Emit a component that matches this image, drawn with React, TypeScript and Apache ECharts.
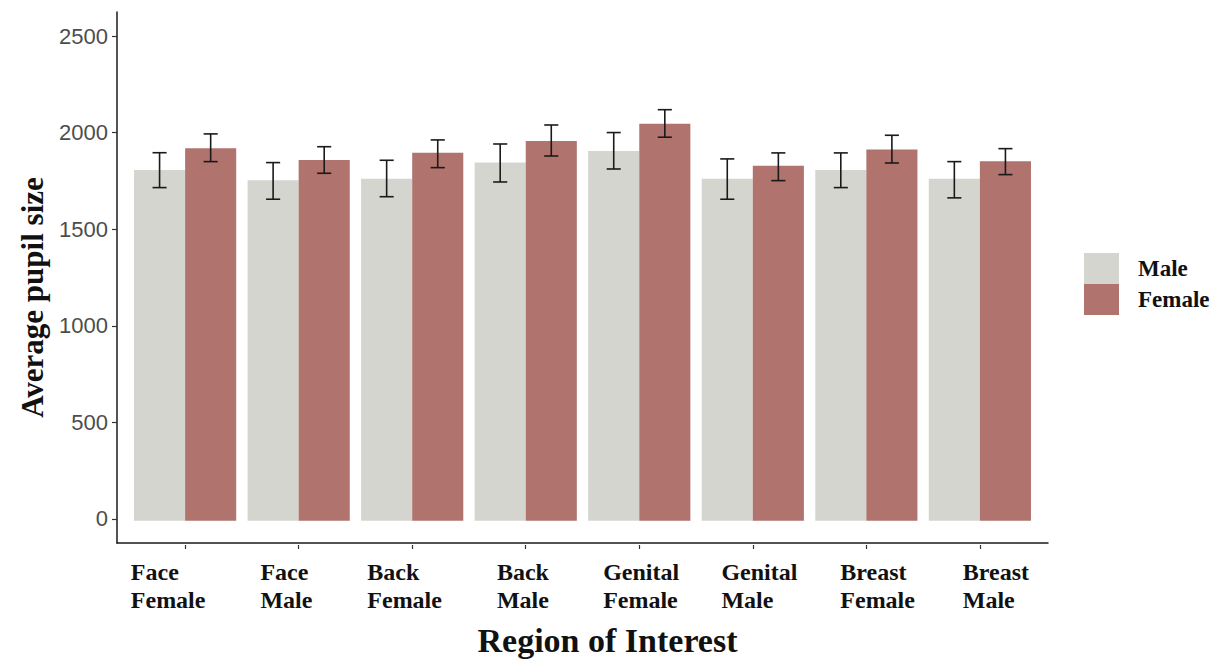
import React, { useEffect, useRef } from 'react';
import * as echarts from 'echarts';

const categories = ['Face\nFemale', 'Face\nMale', 'Back\nFemale', 'Back\nMale', 'Genital\nFemale', 'Genital\nMale', 'Breast\nFemale', 'Breast\nMale'];
const seriesNames = ['Male', 'Female'];
const maleMean = [1810, 1757, 1765, 1848, 1908, 1765, 1810, 1765];
const femaleMean = [1922, 1862, 1899, 1960, 2049, 1832, 1915, 1855];
const maleLower = [1719, 1659, 1672, 1748, 1815, 1659, 1719, 1666];
const maleUpper = [1899, 1848, 1860, 1944, 2003, 1867, 1898, 1853];
const femaleLower = [1853, 1793, 1822, 1882, 1979, 1755, 1846, 1786];
const femaleUpper = [1996, 1930, 1965, 2042, 2121, 1898, 1989, 1920];
const yTicks = [0, 500, 1000, 1500, 2000, 2500];
const yMin = -125;
const yMax = 2625;

const MALE_COLOR = '#d5d5cf';
const FEMALE_COLOR = '#b0736d';
const SERIF = '"Liberation Serif", "Times New Roman", serif';
const SANS = '"Liberation Sans", Arial, sans-serif';

const makeErr = (sign: number) => (params: any, api: any) => {
  const i = api.value(0);
  const lo = api.coord([i, api.value(1)]);
  const hi = api.coord([i, api.value(2)]);
  const band = api.size([1, 0])[0];
  const cx = lo[0] + sign * band * 0.225;
  const half = band * 0.062;
  const style = { stroke: '#1a1a1a', lineWidth: 1.6 };
  return {
    type: 'group',
    children: [
      { type: 'line', shape: { x1: cx, y1: hi[1], x2: cx, y2: lo[1] }, style },
      { type: 'line', shape: { x1: cx - half, y1: hi[1], x2: cx + half, y2: hi[1] }, style },
      { type: 'line', shape: { x1: cx - half, y1: lo[1], x2: cx + half, y2: lo[1] }, style },
    ],
  };
};

export default function App() {
  const ref = useRef<HTMLDivElement>(null);
  useEffect(() => {
    document.body.style.margin = '0';
    const chart = echarts.init(ref.current!, null, { renderer: 'svg' });
    const top = 12;
    const height = 533;
    const hiddenY = { type: 'value', min: yMin, max: yMax, show: false };
    chart.setOption({
      animation: false,
      backgroundColor: '#ffffff',
      grid: [
        { left: 117, top, width: 931, height },
        { left: 128.35, top, width: 908.3, height },
        { left: 109, top, width: 946, height },
      ],
      legend: {
        orient: 'vertical',
        left: 1084,
        top: 253,
        padding: 0,
        itemWidth: 35,
        itemHeight: 31,
        itemGap: 0,
        icon: 'rect',
        selectedMode: false,
        data: seriesNames,
        textStyle: { fontFamily: SERIF, fontWeight: 'bold', fontSize: 23, color: '#111', padding: [0, 0, 0, 14] },
      },
      xAxis: [
        {
          gridIndex: 0,
          type: 'value',
          min: 0,
          max: 1,
          axisLine: { show: true, onZero: false, lineStyle: { color: '#1a1a1a', width: 1.5 } },
          axisTick: { show: false },
          axisLabel: { show: false },
          splitLine: { show: false },
          name: 'Region of Interest',
          nameLocation: 'middle',
          nameGap: 80,
          nameTextStyle: { fontFamily: SERIF, fontWeight: 'bold', fontSize: 34, color: '#111', padding: [0, 0, 0, 50] },
        },
        {
          gridIndex: 1,
          type: 'category',
          data: categories,
          axisLine: { show: false, onZero: false },
          axisTick: { show: true, alignWithLabel: true, interval: 0, length: 4, lineStyle: { color: '#333', width: 1.2 } },
          axisLabel: { show: false, interval: 0 },
          splitLine: { show: false },
        },
        {
          gridIndex: 2,
          type: 'category',
          data: categories,
          axisLine: { show: false, onZero: false },
          axisTick: { show: false },
          axisLabel: {
            show: true,
            interval: 0,
            margin: 13,
            formatter: (v: string) => v.split('\n').map((s) => `{t|${s}}`).join('\n'),
            rich: {
              t: { fontFamily: SERIF, fontWeight: 'bold', fontSize: 24, lineHeight: 28, color: '#111', align: 'left' },
            },
          },
          splitLine: { show: false },
        },
      ],
      yAxis: [
        {
          gridIndex: 0,
          type: 'value',
          min: yMin,
          max: yMax,
          axisLine: { show: true, onZero: false, lineStyle: { color: '#1a1a1a', width: 1.5 } },
          axisTick: { show: true, length: 5, customValues: yTicks, lineStyle: { color: '#333', width: 1.2 } },
          axisLabel: {
            show: true,
            margin: 9,
            customValues: yTicks,
            formatter: (v: number) => String(v),
            fontFamily: SANS,
            fontSize: 22,
            color: '#4d4d4d',
          },
          splitLine: { show: false },
          name: 'Average pupil size',
          nameLocation: 'middle',
          nameGap: 68,
          nameRotate: 90,
          nameTextStyle: { fontFamily: SERIF, fontWeight: 'bold', fontSize: 31, color: '#111', padding: [0, 40, 0, 0] },
        },
        { gridIndex: 1, ...hiddenY },
        { gridIndex: 2, ...hiddenY },
      ],
      series: [
        {
          name: 'Male',
          type: 'bar',
          xAxisIndex: 1,
          yAxisIndex: 1,
          barWidth: '45%',
          barGap: '0%',
          itemStyle: { color: MALE_COLOR },
          data: maleMean,
        },
        {
          name: 'Female',
          type: 'bar',
          xAxisIndex: 1,
          yAxisIndex: 1,
          barWidth: '45%',
          barGap: '0%',
          itemStyle: { color: FEMALE_COLOR },
          data: femaleMean,
        },
        {
          name: 'Male error',
          type: 'custom',
          xAxisIndex: 1,
          yAxisIndex: 1,
          z: 5,
          renderItem: makeErr(-1),
          encode: { x: 0, y: [1, 2] },
          data: categories.map((_, i) => [i, maleLower[i], maleUpper[i]]),
        },
        {
          name: 'Female error',
          type: 'custom',
          xAxisIndex: 1,
          yAxisIndex: 1,
          z: 5,
          renderItem: makeErr(1),
          encode: { x: 0, y: [1, 2] },
          data: categories.map((_, i) => [i, femaleLower[i], femaleUpper[i]]),
        },
      ],
    });
    return () => chart.dispose();
  }, []);
  return <div ref={ref} style={{ width: 1228, height: 662 }} />;
}
